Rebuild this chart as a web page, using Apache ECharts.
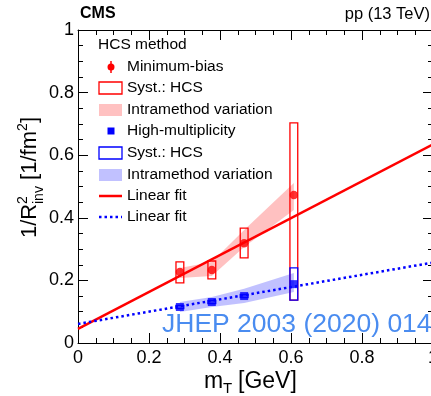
<!DOCTYPE html>
<html><head><meta charset="utf-8">
<script src="https://cdn.jsdelivr.net/npm/echarts@6/dist/echarts.min.js"></script>
<style>html,body{margin:0;padding:0;background:#fff}#c{width:431px;height:396px}</style>
</head><body><div id="c"></div>
<script>
// ---- data ----
const mT = [0.287, 0.377, 0.468, 0.608];
const mbValues   = [0.227, 0.233, 0.319, 0.473];
const mbSystLow  = [0.192, 0.205, 0.272, 0.137];
const mbSystHigh = [0.259, 0.262, 0.367, 0.703];
const mbBandLow  = [0.208, 0.214, 0.307, 0.425];
const mbBandHigh = [0.240, 0.259, 0.361, 0.511];
const hmValues   = [0.115, 0.131, 0.150, 0.188];
const hmSystLow  = [0.110, 0.126, 0.145, 0.137];
const hmSystHigh = [0.120, 0.136, 0.155, 0.240];
const hmBandLow  = [0.099, 0.115, 0.128, 0.163];
const hmBandHigh = [0.131, 0.147, 0.173, 0.224];
const fitX  = [0, 1];
const mbFit = [0.045, 0.635];
const hmFit = [0.061, 0.257];
const xTicks = [0, 0.2, 0.4, 0.6, 0.8, 1];
const yTicks = [0, 0.2, 0.4, 0.6, 0.8, 1];

const RED = '#ff0000', BLUE = '#0000ff';
const RED_BAND = 'rgba(255,50,50,0.3)', BLUE_BAND = 'rgba(50,50,255,0.3)';
const FONT = 'Liberation Sans, Arial, Helvetica, sans-serif';
const SYST_W = 0.022;

function bandSeries(low, high, fill) {
  return {
    type: 'custom', z: 1, silent: true,
    data: mT.map((x, i) => [x, low[i], high[i]]),
    encode: { x: 0, y: [1, 2] },
    renderItem: (params, api) => {
      if (params.dataIndex !== 0) return null;
      const pts = [];
      for (let i = 0; i < mT.length; i++) pts.push(api.coord([mT[i], high[i]]));
      for (let i = mT.length - 1; i >= 0; i--) pts.push(api.coord([mT[i], low[i]]));
      return { type: 'polygon', shape: { points: pts }, style: { fill: fill, stroke: null } };
    }
  };
}
function systSeries(low, high, color, z) {
  return {
    type: 'custom', z: z, silent: true,
    data: mT.map((x, i) => [x, low[i], high[i]]),
    encode: { x: 0, y: [1, 2] },
    renderItem: (params, api) => {
      const x = api.value(0), lo = api.value(1), hi = api.value(2);
      const pA = api.coord([x - SYST_W / 2, hi]);
      const pB = api.coord([x + SYST_W / 2, lo]);
      return { type: 'rect', shape: { x: pA[0], y: pA[1], width: pB[0] - pA[0], height: pB[1] - pA[1] },
               style: { fill: 'rgba(0,0,0,0)', stroke: color, lineWidth: 1.3 } };
    }
  };
}

const axisCommon = {
  type: 'value', min: 0, max: 1, interval: 0.2,
  axisLine: { show: true, onZero: false, lineStyle: { color: '#000', width: 1 } },
  axisTick: { show: true, inside: true, length: 10, lineStyle: { color: '#000', width: 1 } },
  minorTick: { show: true, splitNumber: 4, length: 5, lineStyle: { color: '#000', width: 1 } },
  splitLine: { show: false },
};
const fmt = v => String(+(+v).toFixed(1));

const chart = echarts.init(document.getElementById('c'), null, { renderer: 'canvas' });
const graphics = [];
function txt(x, y, s, size, opts) {
  graphics.push(Object.assign({ type: 'text', x: x, y: y, z: 100,
    style: Object.assign({ text: s, fontSize: size, fontFamily: FONT, fill: '#000',
      textAlign: 'left', textVerticalAlign: 'middle' }, (opts && opts.style) || {}) },
    opts && opts.el || {}));
}
// header
txt(80, 14, 'CMS', 16, { style: { fontWeight: 'bold' } });
txt(430, 14, 'pp (13 TeV)', 16.5, { style: { textAlign: 'right' } });
// x title
txt(204, 382, 'm', 23);
txt(223, 389, 'T', 15);
txt(238, 382, '[GeV]', 23);
// y title (rotated, reads bottom to top)
const ROT = Math.PI / 2;
txt(30, 238, '1/R', 22, { el: { rotation: ROT } });
txt(23, 204, '2', 14, { el: { rotation: ROT } });
txt(39, 204, 'inv', 14, { el: { rotation: ROT } });
txt(30, 186, ' [1/fm', 22, { el: { rotation: ROT } });
txt(23, 131, '2', 14, { el: { rotation: ROT } });
txt(30, 123, ']', 22, { el: { rotation: ROT } });
// legend
const LX = 98, TX = 127, LF = 15.5;
const rows = [67, 88, 110, 131, 153, 175, 196, 217];
txt(LX, 45, 'HCS method', LF);
const legendTexts = ['Minimum-bias', 'Syst.: HCS', 'Intramethod variation', 'High-multiplicity',
  'Syst.: HCS', 'Intramethod variation', 'Linear fit', 'Linear fit'];
legendTexts.forEach((t, i) => txt(TX, rows[i], t, LF));
graphics.push({ type: 'line', z: 100, shape: { x1: 111, y1: rows[0] - 6, x2: 111, y2: rows[0] + 6 }, style: { stroke: RED, lineWidth: 1.5 } });
graphics.push({ type: 'circle', z: 101, shape: { cx: 111, cy: rows[0], r: 3.5 }, style: { fill: RED } });
graphics.push({ type: 'rect', z: 100, shape: { x: 99, y: rows[1] - 6, width: 23, height: 12 }, style: { fill: 'rgba(0,0,0,0)', stroke: RED, lineWidth: 1.3 } });
graphics.push({ type: 'rect', z: 100, shape: { x: 99, y: rows[2] - 6, width: 23, height: 12 }, style: { fill: RED_BAND } });
graphics.push({ type: 'rect', z: 100, shape: { x: 107.5, y: rows[3] - 3.5, width: 7, height: 7 }, style: { fill: BLUE } });
graphics.push({ type: 'rect', z: 100, shape: { x: 99, y: rows[4] - 6, width: 23, height: 12 }, style: { fill: 'rgba(0,0,0,0)', stroke: BLUE, lineWidth: 1.3 } });
graphics.push({ type: 'rect', z: 100, shape: { x: 99, y: rows[5] - 6, width: 23, height: 12 }, style: { fill: BLUE_BAND } });
graphics.push({ type: 'line', z: 100, shape: { x1: 99, y1: rows[6], x2: 122, y2: rows[6] }, style: { stroke: RED, lineWidth: 2.5 } });
graphics.push({ type: 'line', z: 100, shape: { x1: 99, y1: rows[7], x2: 122, y2: rows[7] }, style: { stroke: BLUE, lineWidth: 2.5, lineDash: [2.5, 3] } });
// watermark
txt(162, 325, 'JHEP 2003 (2020) 014', 26.5, { style: { fill: '#4a8cf0' } });

chart.setOption({
  animation: false,
  backgroundColor: '#fff',
  grid: { left: 78, top: 30, width: 355, height: 313, outerBoundsMode: 'none', containLabel: false },
  xAxis: [
    Object.assign({}, axisCommon, { position: 'bottom',
      axisLabel: { show: true, color: '#000', fontSize: 18, fontFamily: FONT, margin: 6, showMinLabel: true, showMaxLabel: true, formatter: fmt } }),
    Object.assign({}, axisCommon, { position: 'top', axisLabel: { show: false } })
  ],
  yAxis: [
    Object.assign({}, axisCommon, { position: 'left',
      axisLabel: { show: true, color: '#000', fontSize: 18, fontFamily: FONT, margin: 4, showMinLabel: true, showMaxLabel: true, formatter: fmt } }),
    Object.assign({}, axisCommon, { position: 'right', axisLabel: { show: false } })
  ],
  series: [
    bandSeries(mbBandLow, mbBandHigh, RED_BAND),
    bandSeries(hmBandLow, hmBandHigh, BLUE_BAND),
    systSeries(mbSystLow, mbSystHigh, RED, 2),
    systSeries(hmSystLow, hmSystHigh, BLUE, 2.5),
    { type: 'line', z: 3, silent: true, showSymbol: false, data: fitX.map((x, i) => [x, mbFit[i]]),
      lineStyle: { color: RED, width: 2.5 } },
    { type: 'line', z: 3, silent: true, showSymbol: false, data: fitX.map((x, i) => [x, hmFit[i]]),
      lineStyle: { color: BLUE, width: 2.5, type: [2.5, 3] } },
    { type: 'scatter', z: 4, silent: true, symbol: 'circle', symbolSize: 8.5, itemStyle: { color: RED },
      data: mT.map((x, i) => [x, mbValues[i]]) },
    { type: 'scatter', z: 4, silent: true, symbol: 'rect', symbolSize: 8, itemStyle: { color: BLUE },
      data: mT.map((x, i) => [x, hmValues[i]]) }
  ],
  graphic: graphics
});
</script></body></html>
